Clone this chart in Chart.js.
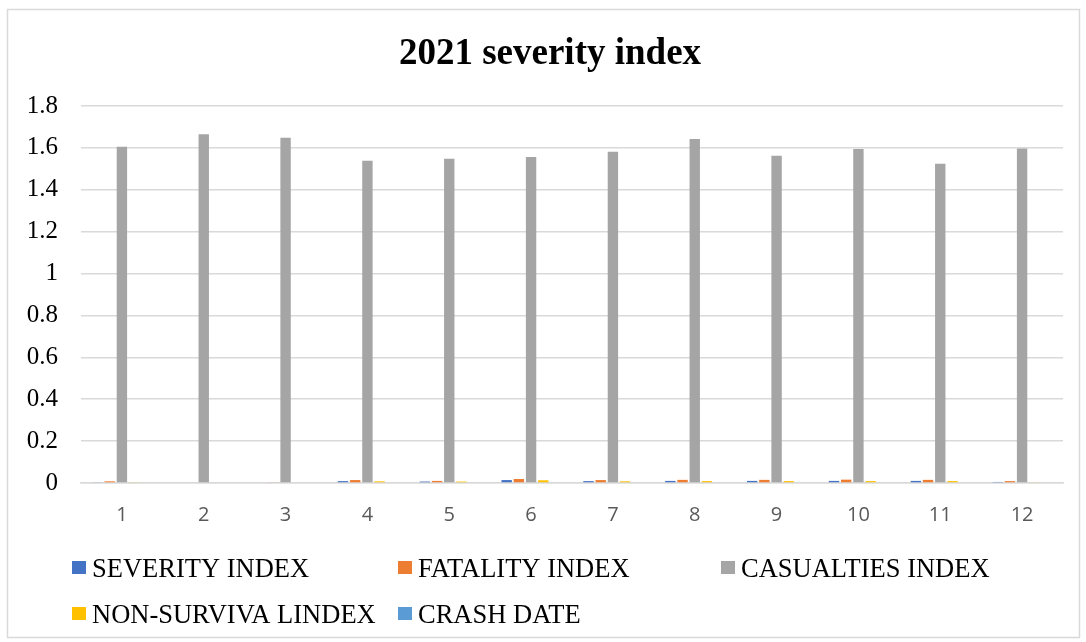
<!DOCTYPE html>
<html>
<head>
<meta charset="utf-8">
<title>2021 severity index</title>
<script src="https://cdn.jsdelivr.net/npm/chart.js@4.4.1/dist/chart.umd.min.js"></script>
<style>
  html, body { margin: 0; padding: 0; background: #ffffff; }
  #wrap { width: 1086px; height: 642px; position: relative; }
  canvas { display: block; }
</style>
</head>
<body>
<div id="wrap"><canvas id="chart" width="1086" height="642"></canvas></div>
<script>
// Months of 2021
const months = ['1', '2', '3', '4', '5', '6', '7', '8', '9', '10', '11', '12'];

// Monthly index values
const severityIndex    = [0.004, 0, 0, 0.009, 0.007, 0.014, 0.009, 0.010, 0.010, 0.010, 0.010, 0.005];
const fatalityIndex    = [0.008, 0, 0.004, 0.014, 0.010, 0.019, 0.014, 0.015, 0.015, 0.016, 0.015, 0.009];
const casualtiesIndex  = [1.606, 1.665, 1.649, 1.538, 1.548, 1.557, 1.581, 1.643, 1.563, 1.595, 1.524, 1.597];
const nonSurvivalIndex = [0.003, 0, 0, 0.008, 0.007, 0.013, 0.008, 0.009, 0.009, 0.009, 0.009, 0.004];
const crashDate        = [0, 0, 0, 0, 0, 0, 0, 0, 0, 0, 0, 0];

// Series names as shown in the legend
const seriesNames = ['SEVERITY INDEX', 'FATALITY INDEX', 'CASUALTIES INDEX', 'NON-SURVIVA LINDEX', 'CRASH DATE'];
const seriesColors = ['#4472C4', '#ED7D31', '#A5A5A5', '#FFC000', '#5B9BD5'];

const chartTitle = '2021 severity index';

const seriesValues = [severityIndex, fatalityIndex, casualtiesIndex, nonSurvivalIndex, crashDate];

const datasets = seriesValues.map((vals, i) => ({
  label: seriesNames[i],
  data: vals,
  backgroundColor: seriesColors[i],
  borderWidth: 0,
  categoryPercentage: 0.746,
  barPercentage: 0.85
}));

// Frame, title and a grid-style legend laid out like an office chart
const decorations = {
  id: 'decorations',
  beforeDraw(chart) {
    const ctx = chart.ctx;
    ctx.save();
    ctx.fillStyle = '#ffffff';
    ctx.fillRect(0, 0, chart.width, chart.height);
    ctx.strokeStyle = '#D9D9D9';
    ctx.lineWidth = 1.5;
    ctx.strokeRect(7.5, 9.5, 1072, 628);
    ctx.restore();
  },
  afterDraw(chart) {
    const ctx = chart.ctx;
    ctx.save();
    // title
    ctx.fillStyle = '#000000';
    ctx.font = 'bold 37px "Liberation Serif", "Times New Roman", serif';
    ctx.textAlign = 'center';
    ctx.textBaseline = 'alphabetic';
    ctx.fillText(chartTitle, 550, 64);

    // legend: three columns, two rows
    const slots = [[72, 577], [398, 577], [721, 577], [72, 623], [398, 623]];
    ctx.font = '26.5px "Liberation Serif", "Times New Roman", serif';
    ctx.textAlign = 'left';
    chart.data.datasets.forEach((ds, i) => {
      const [x, base] = slots[i];
      ctx.fillStyle = ds.backgroundColor;
      ctx.fillRect(x, base - 16, 14, 13);
      ctx.fillStyle = '#000000';
      ctx.fillText(ds.label, x + 20, base);
    });
    ctx.restore();
  }
};

new Chart(document.getElementById('chart'), {
  type: 'bar',
  data: { labels: months, datasets },
  plugins: [decorations],
  options: {
    responsive: false,
    animation: false,
    devicePixelRatio: 1,
    layout: { padding: { top: 106, right: 23, bottom: 0, left: 0 } },
    plugins: {
      legend: { display: false },
      title: { display: false },
      tooltip: { enabled: false }
    },
    scales: {
      x: {
        grid: { display: false, drawTicks: false },
        border: { display: true, color: '#D9D9D9', width: 1.5 },
        ticks: {
          padding: 20,
          color: '#595959',
          font: { family: '"Open Sans", "Liberation Sans", sans-serif', size: 20 }
        },
        afterFit(scale) { scale.height = 159; }
      },
      y: {
        min: 0,
        max: 1.8,
        grid: { color: '#D9D9D9', lineWidth: 1.5, drawTicks: false },
        border: { display: false },
        ticks: {
          stepSize: 0.2,
          padding: 23,
          color: '#000000',
          font: { family: '"Liberation Serif", "Times New Roman", serif', size: 25 },
          callback: (v) => String(Math.round(v * 10) / 10)
        },
        afterFit(scale) { scale.width = 81; }
      }
    }
  }
});
</script>
</body>
</html>
